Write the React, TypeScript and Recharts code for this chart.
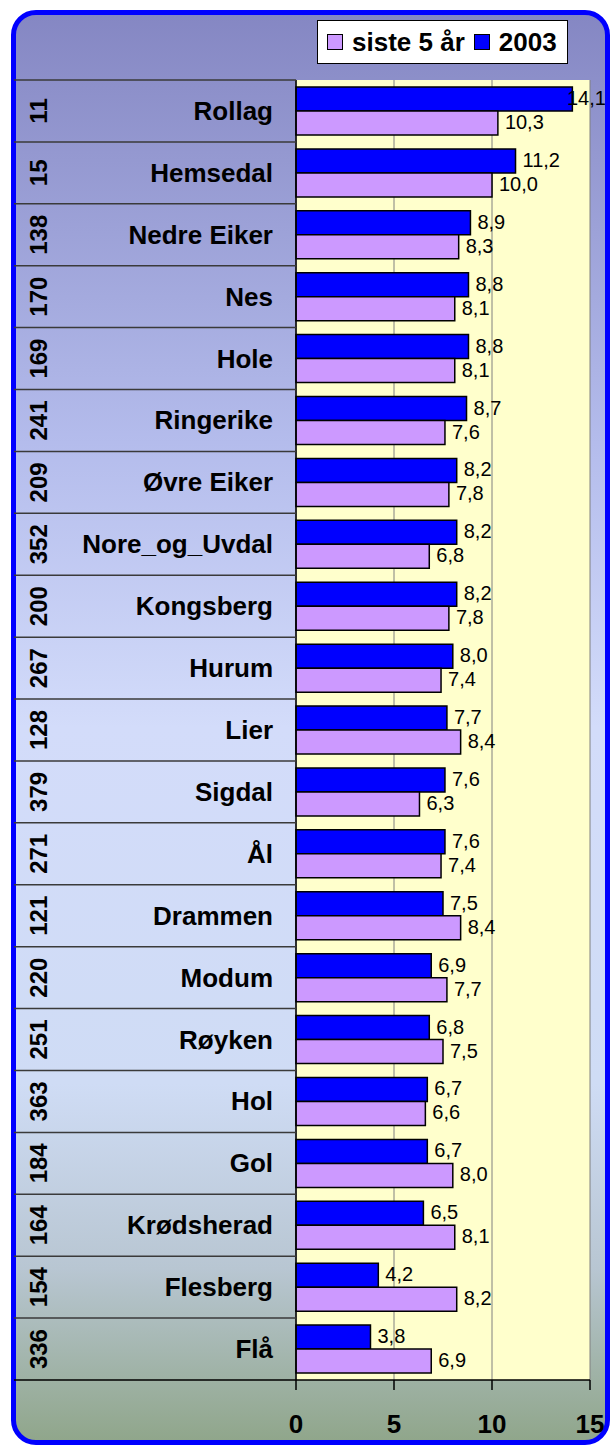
import { BarChart, Bar, XAxis, YAxis, CartesianGrid, LabelList } from 'recharts';

// kommuner sortert etter 2003-verdi
const kommuner = [
  'Rollag', 'Hemsedal', 'Nedre Eiker', 'Nes', 'Hole', 'Ringerike', 'Øvre Eiker',
  'Nore_og_Uvdal', 'Kongsberg', 'Hurum', 'Lier', 'Sigdal', 'Ål', 'Drammen',
  'Modum', 'Røyken', 'Hol', 'Gol', 'Krødsherad', 'Flesberg', 'Flå',
];
const rangering = [11, 15, 138, 170, 169, 241, 209, 352, 200, 267, 128, 379, 271, 121, 220, 251, 363, 184, 164, 154, 336];
const verdi2003 = [14.1, 11.2, 8.9, 8.8, 8.8, 8.7, 8.2, 8.2, 8.2, 8.0, 7.7, 7.6, 7.6, 7.5, 6.9, 6.8, 6.7, 6.7, 6.5, 4.2, 3.8];
const siste5 = [10.3, 10.0, 8.3, 8.1, 8.1, 7.6, 7.8, 6.8, 7.8, 7.4, 8.4, 6.3, 7.4, 8.4, 7.7, 7.5, 6.6, 8.0, 8.1, 8.2, 6.9];
const xTicks = [0, 5, 10, 15];

const data = kommuner.map((name, i) => ({
  name,
  rank: rangering[i],
  v2003: verdi2003[i],
  siste5: siste5[i],
}));

const W = 610;
const H = 1445;
const TOP = 80;
const X_AXIS_H = 65;
const Y_AXIS_W = 296;
const bandH = (H - TOP - X_AXIS_H) / kommuner.length;
const font = '"Liberation Sans", Arial, sans-serif';

const BLUE = '#0000ff';
const PURPLE = '#cc99ff';

function KommuneTick(props: any) {
  const { y, payload } = props;
  const row = data.find(d => d.name === payload.value);
  const last = payload.value === kommuner[kommuner.length - 1];
  return (
    <g>
      <line x1={14} x2={Y_AXIS_W} y1={y - bandH / 2} y2={y - bandH / 2} stroke="#3a3a3a" strokeWidth={1.5} />
      {last && <line x1={14} x2={Y_AXIS_W} y1={y + bandH / 2} y2={y + bandH / 2} stroke="#000" strokeWidth={1.5} />}
      <text
        x={47}
        y={y}
        transform={`rotate(-90 47 ${y})`}
        textAnchor="middle"
        fontFamily={font}
        fontSize={24}
        fontWeight="bold"
        fill="#000"
      >
        {row?.rank}
      </text>
      <text x={273} y={y + 9} textAnchor="end" fontFamily={font} fontSize={26} fontWeight="bold" fill="#000">
        {payload.value}
      </text>
    </g>
  );
}

function XTick(props: any) {
  const { x, y, payload } = props;
  return (
    <text x={x} y={y + 41} textAnchor="middle" fontFamily={font} fontSize={26} fontWeight="bold" fill="#000">
      {payload.value}
    </text>
  );
}

function ValueLabel(props: any) {
  const { x, y, width, height, value } = props;
  const tx = Math.min(x + width + 7, 567);
  return (
    <text x={tx} y={y + height / 2 - 1} dominantBaseline="central" fontFamily={font} fontSize={20} fill="#000">
      {Number(value).toFixed(1).replace('.', ',')}
    </text>
  );
}

function LegendSwatch({ color }: { color: string }) {
  return <span style={{ display: 'inline-block', width: 14, height: 14, background: color, border: '1px solid #000' }} />;
}

export default function App() {
  return (
    <div style={{ position: 'absolute', left: 0, top: 0, width: W, height: H, fontFamily: font }}>
      <div
        style={{
          position: 'absolute',
          left: 11,
          top: 10,
          width: 599,
          height: 1435,
          boxSizing: 'border-box',
          border: `5px solid ${BLUE}`,
          borderRadius: 25,
          background:
            'linear-gradient(to bottom, #8587c3 0%, #b4bcec 30%, #d3dcfa 50%, #cfdcf5 75%, #b8c6d2 88%, #90a68b 100%)',
        }}
      />
      <div style={{ position: 'absolute', left: 0, top: 0 }}>
        <BarChart
          width={W}
          height={H}
          layout="vertical"
          data={data}
          margin={{ top: TOP, right: 20, bottom: 0, left: 0 }}
          barGap={0}
          barSize={24}
        >
          <CartesianGrid horizontal={false} stroke="#808080" fill="#ffffcc" fillOpacity={1} />
          <XAxis
            type="number"
            domain={[0, 15]}
            ticks={xTicks}
            height={X_AXIS_H}
            tickSize={10}
            tickMargin={2}
            axisLine={{ stroke: '#000', strokeWidth: 1.5 }}
            tickLine={{ stroke: '#000', strokeWidth: 1.5 }}
            tick={XTick}
          />
          <YAxis
            type="category"
            dataKey="name"
            width={Y_AXIS_W}
            interval={0}
            tickLine={false}
            axisLine={{ stroke: '#000', strokeWidth: 1.5 }}
            tick={KommuneTick}
          />
          <Bar dataKey="v2003" fill={BLUE} stroke="#000" strokeWidth={1.5} isAnimationActive={false}>
            <LabelList dataKey="v2003" content={ValueLabel} />
          </Bar>
          <Bar dataKey="siste5" fill={PURPLE} stroke="#000" strokeWidth={1.5} isAnimationActive={false}>
            <LabelList dataKey="siste5" content={ValueLabel} />
          </Bar>
        </BarChart>
      </div>
      <div
        style={{
          position: 'absolute',
          left: 317,
          top: 20,
          width: 251,
          height: 44,
          boxSizing: 'border-box',
          background: '#fff',
          border: '1px solid #000',
          display: 'flex',
          alignItems: 'center',
          paddingLeft: 9,
          fontSize: 26,
          fontWeight: 'bold',
          whiteSpace: 'nowrap',
        }}
      >
        <LegendSwatch color={PURPLE} />
        <span style={{ marginLeft: 9 }}>siste 5 år</span>
        <span style={{ marginLeft: 9, display: 'inline-flex' }}>
          <LegendSwatch color={BLUE} />
        </span>
        <span style={{ marginLeft: 9 }}>2003</span>
      </div>
    </div>
  );
}
